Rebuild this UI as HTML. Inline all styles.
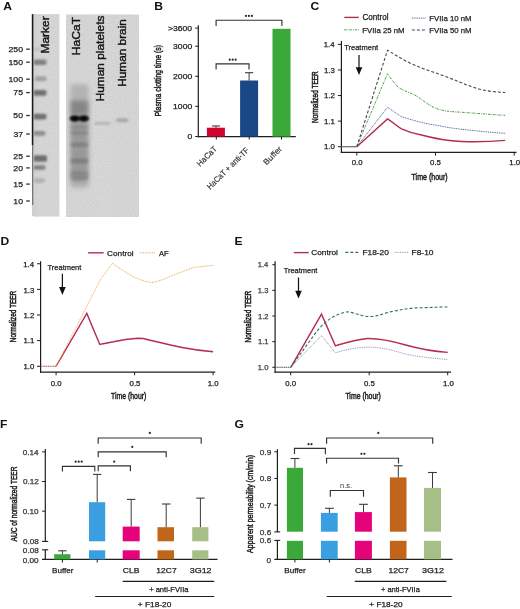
<!DOCTYPE html><html><head><meta charset="utf-8"><style>html,body{margin:0;padding:0;background:#fff;}svg{display:block;will-change:transform;filter:blur(0.3px);}text{font-family:"Liberation Sans", sans-serif;}</style></head><body>
<svg width="520" height="609" viewBox="0 0 520 609">
<defs><filter id="b1" x="-50%" y="-50%" width="200%" height="200%"><feGaussianBlur stdDeviation="1.1"/></filter><filter id="b2" x="-50%" y="-50%" width="200%" height="200%"><feGaussianBlur stdDeviation="2"/></filter><filter id="b3" x="-50%" y="-50%" width="200%" height="200%"><feGaussianBlur stdDeviation="3"/></filter><filter id="noise" x="0" y="0" width="100%" height="100%"><feTurbulence type="fractalNoise" baseFrequency="0.9" numOctaves="2" seed="3"/><feColorMatrix type="matrix" values="0 0 0 0 0  0 0 0 0 0  0 0 0 0 0  0 0 0 0.10 0"/></filter><clipPath id="gm"><rect x="33.3" y="14.1" width="26.1" height="202.5"/></clipPath><clipPath id="gg"><rect x="66" y="14.5" width="73" height="202.5"/></clipPath></defs>
<rect x="0.00" y="0.00" width="520.00" height="609.00" fill="#fff" />
<text transform="translate(3.2,9.8) scale(1.1,1)" font-size="11" font-weight="bold" fill="#111">A</text>
<text transform="translate(154.2,9.8) scale(1.1,1)" font-size="11" font-weight="bold" fill="#111">B</text>
<text transform="translate(310.6,9.8) scale(1.1,1)" font-size="11" font-weight="bold" fill="#111">C</text>
<text transform="translate(0.4,245.1) scale(1.1,1)" font-size="11" font-weight="bold" fill="#111">D</text>
<text transform="translate(234.5,245.1) scale(1.1,1)" font-size="11" font-weight="bold" fill="#111">E</text>
<text transform="translate(0.0,427.8) scale(1.1,1)" font-size="11" font-weight="bold" fill="#111">F</text>
<text transform="translate(234.4,427.8) scale(1.1,1)" font-size="11" font-weight="bold" fill="#111">G</text>
<rect x="33.30" y="14.10" width="26.10" height="202.50" fill="#dfdfdf" />
<g clip-path="url(#gm)">
<rect x="33.30" y="14.10" width="4.00" height="202.50" fill="#dcdcdc" filter="url(#b1)"/>
<rect x="34" y="48.0" width="7" height="3" rx="2" fill="#333" opacity="0.12" filter="url(#b1)"/>
<rect x="33.5" y="59.45" width="13.0" height="5.5" rx="2" fill="#333" opacity="0.5" filter="url(#b1)"/>
<rect x="35" y="76.3" width="11.5" height="5" rx="2" fill="#333" opacity="0.3" filter="url(#b1)"/>
<rect x="33.5" y="89.89999999999999" width="13.0" height="5.8" rx="2" fill="#333" opacity="0.6" filter="url(#b1)"/>
<rect x="33.5" y="113.8" width="13.0" height="5.8" rx="2" fill="#333" opacity="0.6" filter="url(#b1)"/>
<rect x="33.5" y="130.9" width="12.0" height="4.8" rx="2" fill="#333" opacity="0.42" filter="url(#b1)"/>
<rect x="33.5" y="155.25" width="13.5" height="6.5" rx="2" fill="#333" opacity="0.62" filter="url(#b1)"/>
<rect x="33.5" y="165.35" width="12.0" height="4.5" rx="2" fill="#333" opacity="0.5" filter="url(#b1)"/>
<rect x="34" y="178.35" width="11" height="4.5" rx="2" fill="#333" opacity="0.2" filter="url(#b1)"/>
<rect x="30" y="0" width="35" height="230" fill="#000" filter="url(#noise)"/>
</g>
<rect x="31.80" y="14.10" width="1.60" height="131.00" fill="#1a1a1a" />
<rect x="32.00" y="145.00" width="1.30" height="60.00" fill="#444" opacity="0.75"/>
<rect x="32.00" y="205.00" width="1.30" height="11.00" fill="#888" opacity="0.4"/>
<line x1="26.20" y1="49.20" x2="29.70" y2="49.20" stroke="#2a2a2a" stroke-width="1.3" />
<line x1="26.20" y1="62.20" x2="29.70" y2="62.20" stroke="#2a2a2a" stroke-width="1.3" />
<line x1="26.20" y1="79.20" x2="29.70" y2="79.20" stroke="#2a2a2a" stroke-width="1.3" />
<line x1="26.20" y1="92.60" x2="29.70" y2="92.60" stroke="#2a2a2a" stroke-width="1.3" />
<line x1="26.20" y1="115.50" x2="29.70" y2="115.50" stroke="#2a2a2a" stroke-width="1.3" />
<line x1="26.20" y1="134.00" x2="29.70" y2="134.00" stroke="#2a2a2a" stroke-width="1.3" />
<line x1="26.20" y1="156.20" x2="29.70" y2="156.20" stroke="#2a2a2a" stroke-width="1.3" />
<line x1="26.20" y1="167.90" x2="29.70" y2="167.90" stroke="#2a2a2a" stroke-width="1.3" />
<line x1="26.20" y1="184.10" x2="29.70" y2="184.10" stroke="#2a2a2a" stroke-width="1.3" />
<line x1="26.20" y1="201.00" x2="29.70" y2="201.00" stroke="#2a2a2a" stroke-width="1.3" />
<rect x="66.00" y="14.50" width="73.00" height="202.50" fill="#dfdfdf" />
<g clip-path="url(#gg)">
<rect x="93.00" y="10.00" width="19.00" height="215.00" fill="#e0e0e0" filter="url(#b2)"/>
<rect x="70.3" y="84" width="18.2" height="104" rx="4" fill="#8a8a8a" opacity="0.40" filter="url(#b2)"/>
<rect x="70.5" y="120" width="17.8" height="62" rx="4" fill="#777" opacity="0.40" filter="url(#b2)"/>
<rect x="70.3" y="100.5" width="18.2" height="15" rx="2" fill="#555" opacity="0.45" filter="url(#b2)"/>
<ellipse cx="74.5" cy="118.4" rx="5" ry="3" fill="#000" opacity="0.9" filter="url(#b1)"/>
<ellipse cx="84.2" cy="118.4" rx="5" ry="3" fill="#000" opacity="0.9" filter="url(#b1)"/>
<rect x="72" y="116.5" width="14" height="4" fill="#000" opacity="0.6" filter="url(#b1)"/>
<rect x="70.3" y="126.0" width="18.2" height="3" rx="2" fill="#444" opacity="0.12" filter="url(#b1)"/>
<rect x="70.3" y="131.15" width="18.2" height="3.5" rx="2" fill="#444" opacity="0.18" filter="url(#b1)"/>
<rect x="70.3" y="142.45" width="18.2" height="4.5" rx="2" fill="#444" opacity="0.26" filter="url(#b1)"/>
<rect x="70.3" y="158.5" width="18.2" height="5" rx="2" fill="#444" opacity="0.28" filter="url(#b1)"/>
<rect x="70.3" y="170.9" width="18.2" height="9" rx="2" fill="#444" opacity="0.18" filter="url(#b1)"/>
<rect x="94.5" y="121.9" width="15.8" height="2.8" rx="1.4" fill="#666" opacity="0.28" filter="url(#b1)"/>
<rect x="116" y="118.2" width="12.5" height="4" rx="2" fill="#555" opacity="0.32" filter="url(#b1)"/>
<rect x="30" y="0" width="120" height="230" fill="#000" filter="url(#noise)"/>
</g>
<line x1="198.30" y1="25.30" x2="198.30" y2="137.20" stroke="#1e1e1e" stroke-width="1.2" />
<line x1="197.70" y1="136.60" x2="295.80" y2="136.60" stroke="#1e1e1e" stroke-width="1.2" />
<line x1="195.20" y1="136.50" x2="198.30" y2="136.50" stroke="#1e1e1e" stroke-width="1.0" />
<line x1="195.20" y1="106.40" x2="198.30" y2="106.40" stroke="#1e1e1e" stroke-width="1.0" />
<line x1="195.20" y1="76.30" x2="198.30" y2="76.30" stroke="#1e1e1e" stroke-width="1.0" />
<line x1="195.20" y1="46.20" x2="198.30" y2="46.20" stroke="#1e1e1e" stroke-width="1.0" />
<line x1="195.20" y1="28.14" x2="198.30" y2="28.14" stroke="#1e1e1e" stroke-width="1.0" />
<rect x="206.90" y="127.70" width="18.00" height="8.90" fill="#d1052c" />
<rect x="240.10" y="80.50" width="18.00" height="56.10" fill="#1a4786" />
<rect x="272.50" y="28.80" width="18.00" height="107.80" fill="#3aa93a" />
<line x1="216.00" y1="126.00" x2="216.00" y2="127.70" stroke="#3a3a3a" stroke-width="1.0" />
<line x1="212.10" y1="126.00" x2="219.90" y2="126.00" stroke="#3a3a3a" stroke-width="1.1" />
<line x1="249.10" y1="72.70" x2="249.10" y2="80.50" stroke="#3a3a3a" stroke-width="1.0" />
<line x1="245.00" y1="72.70" x2="253.20" y2="72.70" stroke="#3a3a3a" stroke-width="1.1" />
<line x1="216.30" y1="136.60" x2="216.30" y2="139.60" stroke="#1e1e1e" stroke-width="1.0" />
<line x1="249.20" y1="136.60" x2="249.20" y2="139.60" stroke="#1e1e1e" stroke-width="1.0" />
<line x1="281.50" y1="136.60" x2="281.50" y2="139.60" stroke="#1e1e1e" stroke-width="1.0" />
<path d="M216.1,26.0 V20.2 H281.9 V26.0" stroke="#333" stroke-width="1.15" fill="none" />
<circle cx="245.90" cy="15.90" r="1.1" fill="#2a2a2a"/>
<circle cx="248.90" cy="15.90" r="1.1" fill="#2a2a2a"/>
<circle cx="251.90" cy="15.90" r="1.1" fill="#2a2a2a"/>
<path d="M216.1,69.6 V63.9 H249.0 V69.6" stroke="#333" stroke-width="1.15" fill="none" />
<circle cx="229.70" cy="59.70" r="1.1" fill="#2a2a2a"/>
<circle cx="232.70" cy="59.70" r="1.1" fill="#2a2a2a"/>
<circle cx="235.70" cy="59.70" r="1.1" fill="#2a2a2a"/>
<text transform="translate(217.5,149.5) rotate(-45)" font-size="8.2" fill="#2a2a2a" stroke="#2a2a2a" stroke-width="0.15" text-anchor="end" textLength="24.6" lengthAdjust="spacingAndGlyphs">HaCaT</text>
<text transform="translate(249.5,150.8) rotate(-45)" font-size="8.2" fill="#2a2a2a" stroke="#2a2a2a" stroke-width="0.15" text-anchor="end" textLength="55.5" lengthAdjust="spacingAndGlyphs">HaCaT + anti-TF</text>
<text transform="translate(282.5,149.5) rotate(-45)" font-size="8.2" fill="#2a2a2a" stroke="#2a2a2a" stroke-width="0.15" text-anchor="end" textLength="22.5" lengthAdjust="spacingAndGlyphs">Buffer</text>
<line x1="341.40" y1="40.90" x2="341.40" y2="153.00" stroke="#1e1e1e" stroke-width="1.2" />
<line x1="340.80" y1="152.45" x2="516.50" y2="152.45" stroke="#1e1e1e" stroke-width="1.2" />
<line x1="337.90" y1="146.70" x2="341.40" y2="146.70" stroke="#1e1e1e" stroke-width="1.0" />
<line x1="337.90" y1="121.12" x2="341.40" y2="121.12" stroke="#1e1e1e" stroke-width="1.0" />
<line x1="337.90" y1="95.55" x2="341.40" y2="95.55" stroke="#1e1e1e" stroke-width="1.0" />
<line x1="337.90" y1="69.97" x2="341.40" y2="69.97" stroke="#1e1e1e" stroke-width="1.0" />
<line x1="337.90" y1="44.40" x2="341.40" y2="44.40" stroke="#1e1e1e" stroke-width="1.0" />
<line x1="356.80" y1="152.45" x2="356.80" y2="155.60" stroke="#1e1e1e" stroke-width="1.0" />
<line x1="435.50" y1="152.45" x2="435.50" y2="155.60" stroke="#1e1e1e" stroke-width="1.0" />
<line x1="514.20" y1="152.45" x2="514.20" y2="155.60" stroke="#1e1e1e" stroke-width="1.0" />
<line x1="359.00" y1="54.90" x2="359.00" y2="68.20" stroke="#111" stroke-width="1.2" />
<path d="M355.70,67.20 L362.30,67.20 L359.00,75.00 Z" fill="#111"/>
<line x1="344.30" y1="17.40" x2="358.80" y2="17.40" stroke="#b72c4c" stroke-width="1.4" />
<line x1="344.30" y1="29.80" x2="358.80" y2="29.80" stroke="#4c9c44" stroke-width="1.0" stroke-dasharray="2.4,1,0.8,1"/>
<line x1="411.90" y1="18.10" x2="426.00" y2="18.10" stroke="#44649c" stroke-width="1.0" stroke-dasharray="1,0.8"/>
<line x1="411.90" y1="30.00" x2="426.00" y2="30.00" stroke="#4b4052" stroke-width="1.1" stroke-dasharray="3,2"/>
<path d="M356.8,146.7 L387.5,118.9 C394,123 397,126.5 401.5,128.8 C410,132.5 415,133.8 420.4,134.8 C433,138 440,139.5 447.3,140.2 C460,141.5 468,141.8 474.2,141.8 C490,141.6 498,141 505.2,140.4" stroke="#b72c4c" stroke-width="1.4" fill="none" />
<path d="M356.8,146.7 L387.5,107.3 C393,111 397,114 401.5,116.7 C415,121 425,123.5 433.8,124.8 C445,127 453,128.3 460.8,129.2 C480,131.3 495,132.8 505.2,133.3" stroke="#44649c" stroke-width="1.0" fill="none" stroke-dasharray="1,0.8"/>
<path d="M356.8,146.7 L387.5,73.7 C392,80 396,86 400.2,88.5 C405,91 409,92.5 412.3,93.8 C416,95.5 419,97.5 423,100.6 C430,105.5 434,108 439.2,109.5 C447,111.5 453,111.8 460.8,112.2 C475,113.2 490,114.5 505.2,115.4" stroke="#4c9c44" stroke-width="1.0" fill="none" stroke-dasharray="2.4,1,0.8,1"/>
<line x1="341.40" y1="146.70" x2="356.80" y2="146.70" stroke="#6a6a6a" stroke-width="1.2" />
<path d="M356.8,146.7 L387.5,50.2 C394,54 400,58 406.9,61.5 C416,66 425,69.5 433.8,72.3 C443,75.5 452,79 460.8,82.5 C468,85.5 475,88 482.3,89.8 C490,91.5 498,92.2 505.2,92.5" stroke="#4b4052" stroke-width="1.1" fill="none" stroke-dasharray="3,2"/>
<line x1="40.60" y1="261.20" x2="40.60" y2="372.80" stroke="#1e1e1e" stroke-width="1.2" />
<line x1="40.00" y1="372.20" x2="215.20" y2="372.20" stroke="#1e1e1e" stroke-width="1.2" />
<line x1="37.00" y1="366.25" x2="40.60" y2="366.25" stroke="#1e1e1e" stroke-width="1.0" />
<line x1="37.00" y1="340.62" x2="40.60" y2="340.62" stroke="#1e1e1e" stroke-width="1.0" />
<line x1="37.00" y1="315.00" x2="40.60" y2="315.00" stroke="#1e1e1e" stroke-width="1.0" />
<line x1="37.00" y1="289.38" x2="40.60" y2="289.38" stroke="#1e1e1e" stroke-width="1.0" />
<line x1="37.00" y1="263.75" x2="40.60" y2="263.75" stroke="#1e1e1e" stroke-width="1.0" />
<line x1="56.10" y1="372.20" x2="56.10" y2="375.30" stroke="#1e1e1e" stroke-width="1.0" />
<line x1="134.60" y1="372.20" x2="134.60" y2="375.30" stroke="#1e1e1e" stroke-width="1.0" />
<line x1="213.10" y1="372.20" x2="213.10" y2="375.30" stroke="#1e1e1e" stroke-width="1.0" />
<line x1="62.40" y1="273.75" x2="62.40" y2="288.10" stroke="#111" stroke-width="1.2" />
<path d="M59.10,287.10 L65.70,287.10 L62.40,294.90 Z" fill="#111"/>
<line x1="88.10" y1="252.80" x2="103.70" y2="252.80" stroke="#b72c52" stroke-width="1.4" />
<line x1="139.50" y1="252.80" x2="155.10" y2="252.80" stroke="#eda23c" stroke-width="1.0" stroke-dasharray="0.9,0.9"/>
<path d="M56.1,366.25 L86.8,313.4 L99.8,344.4 C106,343.3 110,342.3 113.5,341.8 C121,340 128,338.8 137.7,338.3 C140,338.3 141.5,338.3 143.1,338.5 C158,342 170,345 180.8,347.2 C195,350 205,351 213.1,351.7" stroke="#b72c52" stroke-width="1.4" fill="none" />
<path d="M56.1,366.25 L100.5,279.5 L112.5,263.3 C122,270 135,280 151.2,282.5 C162,281.5 172,275 180.8,272.3 C187,270 190,268.5 194.2,267.7 C200,266.5 207,265.8 213.1,265.6" stroke="#eda23c" stroke-width="1.0" fill="none" stroke-dasharray="0.9,0.9"/>
<line x1="40.60" y1="366.25" x2="56.10" y2="366.25" stroke="#9a4a44" stroke-width="1.1" stroke-dasharray="1.2,0.6"/>
<line x1="275.10" y1="261.30" x2="275.10" y2="372.80" stroke="#1e1e1e" stroke-width="1.2" />
<line x1="274.50" y1="372.20" x2="451.00" y2="372.20" stroke="#1e1e1e" stroke-width="1.2" />
<line x1="272.30" y1="367.30" x2="275.10" y2="367.30" stroke="#1e1e1e" stroke-width="1.0" />
<line x1="272.30" y1="341.65" x2="275.10" y2="341.65" stroke="#1e1e1e" stroke-width="1.0" />
<line x1="272.30" y1="316.00" x2="275.10" y2="316.00" stroke="#1e1e1e" stroke-width="1.0" />
<line x1="272.30" y1="290.35" x2="275.10" y2="290.35" stroke="#1e1e1e" stroke-width="1.0" />
<line x1="272.30" y1="264.70" x2="275.10" y2="264.70" stroke="#1e1e1e" stroke-width="1.0" />
<line x1="290.70" y1="372.20" x2="290.70" y2="375.30" stroke="#1e1e1e" stroke-width="1.0" />
<line x1="369.20" y1="372.20" x2="369.20" y2="375.30" stroke="#1e1e1e" stroke-width="1.0" />
<line x1="447.70" y1="372.20" x2="447.70" y2="375.30" stroke="#1e1e1e" stroke-width="1.0" />
<line x1="298.50" y1="277.50" x2="298.50" y2="291.80" stroke="#111" stroke-width="1.2" />
<path d="M295.20,290.80 L301.80,290.80 L298.50,298.60 Z" fill="#111"/>
<line x1="293.80" y1="252.60" x2="308.70" y2="252.60" stroke="#b72c52" stroke-width="1.4" />
<line x1="345.30" y1="252.40" x2="359.70" y2="252.40" stroke="#2b7458" stroke-width="1.1" stroke-dasharray="3,2"/>
<line x1="394.60" y1="252.40" x2="408.80" y2="252.40" stroke="#8d8dbd" stroke-width="1.0" stroke-dasharray="0.9,0.9"/>
<path d="M290.8,367.3 L321.5,314.1 L335.4,345.8 C345,343 355,339.5 367.7,338.5 C380,338.3 392,341 405.7,345 C420,349 435,351.5 447.7,352.4" stroke="#b72c52" stroke-width="1.4" fill="none" />
<path d="M290.8,367.3 L317,331 C325,321 336,313.5 347.5,311.8 C355,312.8 362,316.5 370,316.6 C380,316 386,312.5 392.5,311.4 C402,309.5 410,308 418.8,307.8 C430,307.5 440,307 447.7,307" stroke="#2b7458" stroke-width="1.1" fill="none" stroke-dasharray="3,2"/>
<path d="M290.8,367.3 L321.5,335.6 L335.4,352.8 C345,350 355,347.5 368.9,347.1 C385,347.5 395,351 405.7,354.2 C420,357 435,358.5 447.7,359.5" stroke="#8d8dbd" stroke-width="1.0" fill="none" stroke-dasharray="0.9,0.9"/>
<line x1="275.10" y1="367.30" x2="290.80" y2="367.30" stroke="#444" stroke-width="1.1" stroke-dasharray="1.4,0.7"/>
<line x1="45.30" y1="449.10" x2="45.30" y2="541.40" stroke="#1e1e1e" stroke-width="1.2" />
<line x1="42.00" y1="541.40" x2="48.20" y2="541.40" stroke="#1e1e1e" stroke-width="1.1" />
<line x1="45.30" y1="549.80" x2="45.30" y2="560.00" stroke="#1e1e1e" stroke-width="1.2" />
<line x1="42.00" y1="549.80" x2="48.20" y2="549.80" stroke="#1e1e1e" stroke-width="1.1" />
<line x1="42.00" y1="559.40" x2="217.50" y2="559.40" stroke="#1e1e1e" stroke-width="1.2" />
<line x1="42.10" y1="451.90" x2="45.30" y2="451.90" stroke="#1e1e1e" stroke-width="1.0" />
<line x1="42.10" y1="481.55" x2="45.30" y2="481.55" stroke="#1e1e1e" stroke-width="1.0" />
<line x1="42.10" y1="511.20" x2="45.30" y2="511.20" stroke="#1e1e1e" stroke-width="1.0" />
<rect x="54.20" y="554.20" width="16.20" height="5.20" fill="#3aa93a" />
<rect x="89.00" y="502.20" width="16.20" height="39.10" fill="#3a9fe0" />
<rect x="89.00" y="550.30" width="16.20" height="9.10" fill="#3a9fe0" />
<rect x="122.70" y="526.60" width="17.00" height="14.70" fill="#e5037b" />
<rect x="122.70" y="550.30" width="17.00" height="9.10" fill="#e5037b" />
<rect x="157.50" y="527.20" width="16.50" height="14.10" fill="#c1651b" />
<rect x="157.50" y="550.30" width="16.50" height="9.10" fill="#c1651b" />
<rect x="192.20" y="527.20" width="16.20" height="14.10" fill="#a6bf86" />
<rect x="192.20" y="550.30" width="16.20" height="9.10" fill="#a6bf86" />
<line x1="62.40" y1="550.80" x2="62.40" y2="554.20" stroke="#3a3a3a" stroke-width="1.0" />
<line x1="58.20" y1="550.80" x2="66.60" y2="550.80" stroke="#3a3a3a" stroke-width="1.1" />
<line x1="97.20" y1="474.40" x2="97.20" y2="502.20" stroke="#3a3a3a" stroke-width="1.0" />
<line x1="93.00" y1="474.40" x2="101.40" y2="474.40" stroke="#3a3a3a" stroke-width="1.1" />
<line x1="131.20" y1="499.40" x2="131.20" y2="526.60" stroke="#3a3a3a" stroke-width="1.0" />
<line x1="127.00" y1="499.40" x2="135.40" y2="499.40" stroke="#3a3a3a" stroke-width="1.1" />
<line x1="166.20" y1="504.00" x2="166.20" y2="527.20" stroke="#3a3a3a" stroke-width="1.0" />
<line x1="162.00" y1="504.00" x2="170.40" y2="504.00" stroke="#3a3a3a" stroke-width="1.1" />
<line x1="200.40" y1="498.10" x2="200.40" y2="527.20" stroke="#3a3a3a" stroke-width="1.0" />
<line x1="196.20" y1="498.10" x2="204.60" y2="498.10" stroke="#3a3a3a" stroke-width="1.1" />
<line x1="62.40" y1="559.40" x2="62.40" y2="562.60" stroke="#1e1e1e" stroke-width="1.0" />
<line x1="97.20" y1="559.40" x2="97.20" y2="562.60" stroke="#1e1e1e" stroke-width="1.0" />
<path d="M62.4,471.59999999999997 V466.4 H94.8 V471.59999999999997" stroke="#333" stroke-width="1.15" fill="none" />
<circle cx="75.70" cy="461.70" r="1.1" fill="#2a2a2a"/>
<circle cx="78.70" cy="461.70" r="1.1" fill="#2a2a2a"/>
<circle cx="81.70" cy="461.70" r="1.1" fill="#2a2a2a"/>
<path d="M98.2,471.2 V465.8 H130.4 V471.2" stroke="#333" stroke-width="1.15" fill="none" />
<circle cx="114.20" cy="461.70" r="1.1" fill="#2a2a2a"/>
<path d="M98.2,457.2 V451.8 H166.2 V457.2" stroke="#333" stroke-width="1.15" fill="none" />
<circle cx="132.30" cy="446.90" r="1.1" fill="#2a2a2a"/>
<path d="M98.2,443.7 V438.0 H201.2 V443.7" stroke="#333" stroke-width="1.15" fill="none" />
<circle cx="149.80" cy="432.90" r="1.1" fill="#2a2a2a"/>
<line x1="122.70" y1="581.40" x2="214.20" y2="581.40" stroke="#1e1e1e" stroke-width="1.1" />
<line x1="95.20" y1="596.50" x2="214.20" y2="596.50" stroke="#1e1e1e" stroke-width="1.1" />
<line x1="277.40" y1="449.20" x2="277.40" y2="531.90" stroke="#1e1e1e" stroke-width="1.2" />
<line x1="274.30" y1="531.90" x2="280.20" y2="531.90" stroke="#1e1e1e" stroke-width="1.1" />
<line x1="277.40" y1="540.40" x2="277.40" y2="559.90" stroke="#1e1e1e" stroke-width="1.2" />
<line x1="274.30" y1="540.40" x2="280.20" y2="540.40" stroke="#1e1e1e" stroke-width="1.1" />
<line x1="274.30" y1="559.30" x2="452.50" y2="559.30" stroke="#1e1e1e" stroke-width="1.2" />
<line x1="274.30" y1="451.80" x2="277.40" y2="451.80" stroke="#1e1e1e" stroke-width="1.0" />
<line x1="274.30" y1="478.45" x2="277.40" y2="478.45" stroke="#1e1e1e" stroke-width="1.0" />
<line x1="274.30" y1="505.10" x2="277.40" y2="505.10" stroke="#1e1e1e" stroke-width="1.0" />
<rect x="286.90" y="467.80" width="16.10" height="63.90" fill="#3aa93a" />
<rect x="286.90" y="540.80" width="16.10" height="18.50" fill="#3aa93a" />
<rect x="320.90" y="512.90" width="16.80" height="18.80" fill="#3a9fe0" />
<rect x="320.90" y="540.80" width="16.80" height="18.50" fill="#3a9fe0" />
<rect x="354.90" y="512.10" width="17.00" height="19.60" fill="#e5037b" />
<rect x="354.90" y="540.80" width="17.00" height="18.50" fill="#e5037b" />
<rect x="389.90" y="477.40" width="16.60" height="54.30" fill="#c1651b" />
<rect x="389.90" y="540.80" width="16.60" height="18.50" fill="#c1651b" />
<rect x="424.00" y="487.90" width="17.00" height="43.80" fill="#a6bf86" />
<rect x="424.00" y="540.80" width="17.00" height="18.50" fill="#a6bf86" />
<line x1="294.90" y1="458.50" x2="294.90" y2="467.80" stroke="#3a3a3a" stroke-width="1.0" />
<line x1="290.50" y1="458.50" x2="299.30" y2="458.50" stroke="#3a3a3a" stroke-width="1.1" />
<line x1="329.40" y1="508.30" x2="329.40" y2="512.90" stroke="#3a3a3a" stroke-width="1.0" />
<line x1="325.00" y1="508.30" x2="333.80" y2="508.30" stroke="#3a3a3a" stroke-width="1.1" />
<line x1="363.50" y1="504.30" x2="363.50" y2="512.10" stroke="#3a3a3a" stroke-width="1.0" />
<line x1="359.10" y1="504.30" x2="367.90" y2="504.30" stroke="#3a3a3a" stroke-width="1.1" />
<line x1="398.30" y1="465.80" x2="398.30" y2="477.40" stroke="#3a3a3a" stroke-width="1.0" />
<line x1="393.90" y1="465.80" x2="402.70" y2="465.80" stroke="#3a3a3a" stroke-width="1.1" />
<line x1="432.50" y1="472.50" x2="432.50" y2="487.90" stroke="#3a3a3a" stroke-width="1.0" />
<line x1="428.10" y1="472.50" x2="436.90" y2="472.50" stroke="#3a3a3a" stroke-width="1.1" />
<line x1="294.90" y1="559.30" x2="294.90" y2="562.50" stroke="#1e1e1e" stroke-width="1.0" />
<line x1="329.40" y1="559.30" x2="329.40" y2="562.50" stroke="#1e1e1e" stroke-width="1.0" />
<path d="M294.5,453.9 V448.4 H325.4 V454.2" stroke="#333" stroke-width="1.15" fill="none" />
<circle cx="308.50" cy="444.20" r="1.1" fill="#2a2a2a"/>
<circle cx="311.50" cy="444.20" r="1.1" fill="#2a2a2a"/>
<path d="M326.6,443.7 V438.0 H432.7 V443.7" stroke="#333" stroke-width="1.15" fill="none" />
<circle cx="378.30" cy="432.90" r="1.1" fill="#2a2a2a"/>
<path d="M326.6,463.59999999999997 V458.2 H398.5 V463.59999999999997" stroke="#333" stroke-width="1.15" fill="none" />
<circle cx="361.40" cy="453.80" r="1.1" fill="#2a2a2a"/>
<circle cx="364.40" cy="453.80" r="1.1" fill="#2a2a2a"/>
<path d="M330.3,496.7 V490.5 H363.5 V496.7" stroke="#333" stroke-width="1.15" fill="none" />
<text x="346.0" y="487.6" font-size="7.4" fill="#333" text-anchor="middle">n.s.</text>
<line x1="354.80" y1="581.40" x2="446.40" y2="581.40" stroke="#1e1e1e" stroke-width="1.1" />
<line x1="326.70" y1="596.50" x2="451.70" y2="596.50" stroke="#1e1e1e" stroke-width="1.1" />
<text x="8.54" y="51.85" font-size="7.9" fill="#1e1e1e" stroke="#1e1e1e" stroke-width="0.25" textLength="14.49" lengthAdjust="spacingAndGlyphs">250</text>
<text x="8.54" y="64.65" font-size="7.9" fill="#1e1e1e" stroke="#1e1e1e" stroke-width="0.25" textLength="14.49" lengthAdjust="spacingAndGlyphs">150</text>
<text x="8.54" y="81.95" font-size="7.9" fill="#1e1e1e" stroke="#1e1e1e" stroke-width="0.25" textLength="14.49" lengthAdjust="spacingAndGlyphs">100</text>
<text x="13.35" y="95.35" font-size="7.9" fill="#1e1e1e" stroke="#1e1e1e" stroke-width="0.25" textLength="9.66" lengthAdjust="spacingAndGlyphs">75</text>
<text x="13.35" y="118.25" font-size="7.9" fill="#1e1e1e" stroke="#1e1e1e" stroke-width="0.25" textLength="9.66" lengthAdjust="spacingAndGlyphs">50</text>
<text x="13.49" y="136.75" font-size="7.9" fill="#1e1e1e" stroke="#1e1e1e" stroke-width="0.25" textLength="9.66" lengthAdjust="spacingAndGlyphs">37</text>
<text x="13.35" y="158.95" font-size="7.9" fill="#1e1e1e" stroke="#1e1e1e" stroke-width="0.25" textLength="9.66" lengthAdjust="spacingAndGlyphs">25</text>
<text x="13.35" y="170.65" font-size="7.9" fill="#1e1e1e" stroke="#1e1e1e" stroke-width="0.25" textLength="9.66" lengthAdjust="spacingAndGlyphs">20</text>
<text x="13.35" y="186.85" font-size="7.9" fill="#1e1e1e" stroke="#1e1e1e" stroke-width="0.25" textLength="9.66" lengthAdjust="spacingAndGlyphs">15</text>
<text x="13.35" y="203.75" font-size="7.9" fill="#1e1e1e" stroke="#1e1e1e" stroke-width="0.25" textLength="9.66" lengthAdjust="spacingAndGlyphs">10</text>
<text transform="translate(48.60,53.45) rotate(-90)" font-size="11.0" fill="#151515" stroke="#151515" stroke-width="0.4" textLength="37.07" lengthAdjust="spacingAndGlyphs">Marker</text>
<text transform="translate(80.30,55.14) rotate(-90)" font-size="11.2" fill="#151515" stroke="#151515" stroke-width="0.4" textLength="38.14" lengthAdjust="spacingAndGlyphs">HaCaT</text>
<text transform="translate(103.80,101.33) rotate(-90)" font-size="11.2" fill="#151515" stroke="#151515" stroke-width="0.4" textLength="85.79" lengthAdjust="spacingAndGlyphs">Human platelets</text>
<text transform="translate(125.50,86.81) rotate(-90)" font-size="11.4" fill="#151515" stroke="#151515" stroke-width="0.4" textLength="67.65" lengthAdjust="spacingAndGlyphs">Human brain</text>
<text x="187.40" y="139.25" font-size="7.8" fill="#1c1c1c" stroke="#1c1c1c" stroke-width="0.25" textLength="4.78" lengthAdjust="spacingAndGlyphs">0</text>
<text x="173.10" y="109.35" font-size="7.8" fill="#1c1c1c" stroke="#1c1c1c" stroke-width="0.25" textLength="19.10" lengthAdjust="spacingAndGlyphs">1000</text>
<text x="173.10" y="79.15" font-size="7.8" fill="#1c1c1c" stroke="#1c1c1c" stroke-width="0.25" textLength="19.10" lengthAdjust="spacingAndGlyphs">2000</text>
<text x="173.10" y="49.15" font-size="7.8" fill="#1c1c1c" stroke="#1c1c1c" stroke-width="0.25" textLength="19.10" lengthAdjust="spacingAndGlyphs">3000</text>
<text x="168.01" y="31.05" font-size="7.8" fill="#1c1c1c" stroke="#1c1c1c" stroke-width="0.25" textLength="24.10" lengthAdjust="spacingAndGlyphs">&gt;3600</text>
<text transform="translate(161.40,116.57) rotate(-90)" font-size="9.0" fill="#1c1c1c" stroke="#1c1c1c" stroke-width="0.45" textLength="71.58" lengthAdjust="spacingAndGlyphs">Plasma clotting time (s)</text>
<text x="323.90" y="149.40" font-size="7.8" fill="#1c1c1c" stroke="#1c1c1c" stroke-width="0.25" textLength="10.84" lengthAdjust="spacingAndGlyphs">1.0</text>
<text x="323.90" y="123.90" font-size="7.8" fill="#1c1c1c" stroke="#1c1c1c" stroke-width="0.25" textLength="10.84" lengthAdjust="spacingAndGlyphs">1.1</text>
<text x="323.90" y="98.40" font-size="7.8" fill="#1c1c1c" stroke="#1c1c1c" stroke-width="0.25" textLength="10.84" lengthAdjust="spacingAndGlyphs">1.2</text>
<text x="323.90" y="72.80" font-size="7.8" fill="#1c1c1c" stroke="#1c1c1c" stroke-width="0.25" textLength="10.84" lengthAdjust="spacingAndGlyphs">1.3</text>
<text x="323.77" y="47.10" font-size="7.8" fill="#1c1c1c" stroke="#1c1c1c" stroke-width="0.25" textLength="10.84" lengthAdjust="spacingAndGlyphs">1.4</text>
<text x="351.68" y="165.30" font-size="7.8" fill="#1c1c1c" stroke="#1c1c1c" stroke-width="0.25" textLength="10.84" lengthAdjust="spacingAndGlyphs">0.0</text>
<text x="430.12" y="165.30" font-size="7.8" fill="#1c1c1c" stroke="#1c1c1c" stroke-width="0.25" textLength="10.84" lengthAdjust="spacingAndGlyphs">0.5</text>
<text x="509.34" y="165.30" font-size="7.8" fill="#1c1c1c" stroke="#1c1c1c" stroke-width="0.25" textLength="10.84" lengthAdjust="spacingAndGlyphs">1.0</text>
<text x="411.52" y="180.00" font-size="9.9" fill="#1c1c1c" stroke="#1c1c1c" stroke-width="0.5" textLength="36.17" lengthAdjust="spacingAndGlyphs">Time (hour)</text>
<text transform="translate(318.20,123.01) rotate(-90)" font-size="9.5" fill="#1c1c1c" stroke="#1c1c1c" stroke-width="0.5" textLength="51.74" lengthAdjust="spacingAndGlyphs">Normalized TEER</text>
<text x="344.18" y="49.70" font-size="7.6" fill="#1c1c1c" stroke="#1c1c1c" stroke-width="0.25" textLength="34.00" lengthAdjust="spacingAndGlyphs">Treatment</text>
<text x="362.53" y="20.40" font-size="8.2" fill="#1c1c1c" stroke="#1c1c1c" stroke-width="0.25" textLength="26.10" lengthAdjust="spacingAndGlyphs">Control</text>
<text x="362.20" y="32.60" font-size="8.1" fill="#1c1c1c" stroke="#1c1c1c" stroke-width="0.25" textLength="42.37" lengthAdjust="spacingAndGlyphs">FVIIa 25 nM</text>
<text x="429.20" y="20.50" font-size="8.1" fill="#1c1c1c" stroke="#1c1c1c" stroke-width="0.25" textLength="42.37" lengthAdjust="spacingAndGlyphs">FVIIa 10 nM</text>
<text x="429.20" y="32.60" font-size="8.1" fill="#1c1c1c" stroke="#1c1c1c" stroke-width="0.25" textLength="42.37" lengthAdjust="spacingAndGlyphs">FVIIa 50 nM</text>
<text x="23.40" y="369.00" font-size="7.8" fill="#1c1c1c" stroke="#1c1c1c" stroke-width="0.25" textLength="10.84" lengthAdjust="spacingAndGlyphs">1.0</text>
<text x="23.40" y="343.40" font-size="7.8" fill="#1c1c1c" stroke="#1c1c1c" stroke-width="0.25" textLength="10.84" lengthAdjust="spacingAndGlyphs">1.1</text>
<text x="23.40" y="318.00" font-size="7.8" fill="#1c1c1c" stroke="#1c1c1c" stroke-width="0.25" textLength="10.84" lengthAdjust="spacingAndGlyphs">1.2</text>
<text x="23.40" y="292.90" font-size="7.8" fill="#1c1c1c" stroke="#1c1c1c" stroke-width="0.25" textLength="10.84" lengthAdjust="spacingAndGlyphs">1.3</text>
<text x="23.27" y="266.50" font-size="7.8" fill="#1c1c1c" stroke="#1c1c1c" stroke-width="0.25" textLength="10.84" lengthAdjust="spacingAndGlyphs">1.4</text>
<text x="50.73" y="385.60" font-size="7.8" fill="#1c1c1c" stroke="#1c1c1c" stroke-width="0.25" textLength="10.84" lengthAdjust="spacingAndGlyphs">0.0</text>
<text x="129.62" y="385.60" font-size="7.8" fill="#1c1c1c" stroke="#1c1c1c" stroke-width="0.25" textLength="10.84" lengthAdjust="spacingAndGlyphs">0.5</text>
<text x="207.74" y="385.60" font-size="7.8" fill="#1c1c1c" stroke="#1c1c1c" stroke-width="0.25" textLength="10.84" lengthAdjust="spacingAndGlyphs">1.0</text>
<text x="111.07" y="398.90" font-size="9.6" fill="#1c1c1c" stroke="#1c1c1c" stroke-width="0.5" textLength="35.27" lengthAdjust="spacingAndGlyphs">Time (hour)</text>
<text transform="translate(16.30,342.23) rotate(-90)" font-size="9.2" fill="#1c1c1c" stroke="#1c1c1c" stroke-width="0.5" textLength="51.47" lengthAdjust="spacingAndGlyphs">Normalized TEER</text>
<text x="47.58" y="269.60" font-size="7.8" fill="#1c1c1c" stroke="#1c1c1c" stroke-width="0.25" textLength="33.72" lengthAdjust="spacingAndGlyphs">Treatment</text>
<text x="107.12" y="255.60" font-size="8.1" fill="#1c1c1c" stroke="#1c1c1c" stroke-width="0.25" textLength="26.46" lengthAdjust="spacingAndGlyphs">Control</text>
<text x="159.00" y="255.60" font-size="8.1" fill="#1c1c1c" stroke="#1c1c1c" stroke-width="0.25" textLength="9.72" lengthAdjust="spacingAndGlyphs">AF</text>
<text x="257.80" y="369.90" font-size="7.4" fill="#3a3a3a" stroke="#3a3a3a" stroke-width="0.25" textLength="10.59" lengthAdjust="spacingAndGlyphs">1.0</text>
<text x="257.93" y="344.20" font-size="7.4" fill="#3a3a3a" stroke="#3a3a3a" stroke-width="0.25" textLength="10.59" lengthAdjust="spacingAndGlyphs">1.1</text>
<text x="257.93" y="318.50" font-size="7.4" fill="#3a3a3a" stroke="#3a3a3a" stroke-width="0.25" textLength="10.59" lengthAdjust="spacingAndGlyphs">1.2</text>
<text x="257.80" y="293.00" font-size="7.4" fill="#3a3a3a" stroke="#3a3a3a" stroke-width="0.25" textLength="10.59" lengthAdjust="spacingAndGlyphs">1.3</text>
<text x="257.67" y="267.20" font-size="7.4" fill="#3a3a3a" stroke="#3a3a3a" stroke-width="0.25" textLength="10.59" lengthAdjust="spacingAndGlyphs">1.4</text>
<text x="285.23" y="385.60" font-size="7.8" fill="#1c1c1c" stroke="#1c1c1c" stroke-width="0.25" textLength="10.84" lengthAdjust="spacingAndGlyphs">0.0</text>
<text x="364.02" y="385.60" font-size="7.8" fill="#1c1c1c" stroke="#1c1c1c" stroke-width="0.25" textLength="10.84" lengthAdjust="spacingAndGlyphs">0.5</text>
<text x="442.94" y="385.60" font-size="7.8" fill="#1c1c1c" stroke="#1c1c1c" stroke-width="0.25" textLength="10.84" lengthAdjust="spacingAndGlyphs">1.0</text>
<text x="345.42" y="398.90" font-size="9.6" fill="#1c1c1c" stroke="#1c1c1c" stroke-width="0.5" textLength="35.42" lengthAdjust="spacingAndGlyphs">Time (hour)</text>
<text transform="translate(250.70,342.53) rotate(-90)" font-size="9.2" fill="#1c1c1c" stroke="#1c1c1c" stroke-width="0.5" textLength="51.77" lengthAdjust="spacingAndGlyphs">Normalized TEER</text>
<text x="283.68" y="272.90" font-size="7.6" fill="#1c1c1c" stroke="#1c1c1c" stroke-width="0.25" textLength="33.70" lengthAdjust="spacingAndGlyphs">Treatment</text>
<text x="311.22" y="255.40" font-size="8.1" fill="#1c1c1c" stroke="#1c1c1c" stroke-width="0.25" textLength="26.66" lengthAdjust="spacingAndGlyphs">Control</text>
<text x="362.46" y="255.40" font-size="8.1" fill="#1c1c1c" stroke="#1c1c1c" stroke-width="0.25" textLength="26.43" lengthAdjust="spacingAndGlyphs">F18-20</text>
<text x="411.55" y="255.40" font-size="8.1" fill="#1c1c1c" stroke="#1c1c1c" stroke-width="0.25" textLength="21.94" lengthAdjust="spacingAndGlyphs">F8-10</text>
<text x="22.76" y="454.60" font-size="7.7" fill="#333" stroke="#333" stroke-width="0.25" textLength="15.87" lengthAdjust="spacingAndGlyphs">0.14</text>
<text x="22.90" y="484.30" font-size="7.7" fill="#333" stroke="#333" stroke-width="0.25" textLength="15.87" lengthAdjust="spacingAndGlyphs">0.12</text>
<text x="22.76" y="513.90" font-size="7.7" fill="#333" stroke="#333" stroke-width="0.25" textLength="15.87" lengthAdjust="spacingAndGlyphs">0.10</text>
<text x="22.90" y="544.00" font-size="7.7" fill="#333" stroke="#333" stroke-width="0.25" textLength="15.87" lengthAdjust="spacingAndGlyphs">0.08</text>
<text x="22.86" y="552.60" font-size="7.3" fill="#333" stroke="#333" stroke-width="0.25" textLength="15.91" lengthAdjust="spacingAndGlyphs">0.08</text>
<text x="22.72" y="562.50" font-size="7.3" fill="#333" stroke="#333" stroke-width="0.25" textLength="15.91" lengthAdjust="spacingAndGlyphs">0.00</text>
<text transform="translate(16.90,541.50) rotate(-90)" font-size="9.0" fill="#1c1c1c" stroke="#1c1c1c" stroke-width="0.45" textLength="75.07" lengthAdjust="spacingAndGlyphs">AUC of normalized TEER</text>
<text x="52.06" y="573.00" font-size="7.9" fill="#1c1c1c" stroke="#1c1c1c" stroke-width="0.25" textLength="21.52" lengthAdjust="spacingAndGlyphs">Buffer</text>
<text x="122.77" y="573.20" font-size="7.6" fill="#1c1c1c" stroke="#1c1c1c" stroke-width="0.25" textLength="16.79" lengthAdjust="spacingAndGlyphs">CLB</text>
<text x="156.34" y="573.20" font-size="7.6" fill="#1c1c1c" stroke="#1c1c1c" stroke-width="0.25" textLength="20.31" lengthAdjust="spacingAndGlyphs">12C7</text>
<text x="189.71" y="573.20" font-size="7.6" fill="#1c1c1c" stroke="#1c1c1c" stroke-width="0.25" textLength="21.88" lengthAdjust="spacingAndGlyphs">3G12</text>
<text x="149.13" y="591.70" font-size="7.6" fill="#1c1c1c" stroke="#1c1c1c" stroke-width="0.25" textLength="39.34" lengthAdjust="spacingAndGlyphs">+ anti-FVIIa</text>
<text x="137.89" y="607.00" font-size="7.6" fill="#1c1c1c" stroke="#1c1c1c" stroke-width="0.25" textLength="33.36" lengthAdjust="spacingAndGlyphs">+ F18-20</text>
<text x="259.74" y="454.80" font-size="7.9" fill="#333" stroke="#333" stroke-width="0.25" textLength="11.53" lengthAdjust="spacingAndGlyphs">0.9</text>
<text x="259.74" y="481.40" font-size="7.9" fill="#333" stroke="#333" stroke-width="0.25" textLength="11.53" lengthAdjust="spacingAndGlyphs">0.8</text>
<text x="259.74" y="507.90" font-size="7.9" fill="#333" stroke="#333" stroke-width="0.25" textLength="11.53" lengthAdjust="spacingAndGlyphs">0.7</text>
<text x="259.74" y="534.80" font-size="7.9" fill="#333" stroke="#333" stroke-width="0.25" textLength="11.53" lengthAdjust="spacingAndGlyphs">0.6</text>
<text x="259.74" y="543.10" font-size="7.9" fill="#333" stroke="#333" stroke-width="0.25" textLength="11.53" lengthAdjust="spacingAndGlyphs">0.6</text>
<text x="266.57" y="562.50" font-size="7.9" fill="#333" stroke="#333" stroke-width="0.25" textLength="4.61" lengthAdjust="spacingAndGlyphs">0</text>
<text transform="translate(252.90,552.90) rotate(-90)" font-size="8.2" fill="#1c1c1c" stroke="#1c1c1c" stroke-width="0.4" textLength="97.94" lengthAdjust="spacingAndGlyphs">Apparent permeability (cm/min)</text>
<text x="284.26" y="573.00" font-size="7.9" fill="#1c1c1c" stroke="#1c1c1c" stroke-width="0.25" textLength="21.52" lengthAdjust="spacingAndGlyphs">Buffer</text>
<text x="355.07" y="573.20" font-size="7.6" fill="#1c1c1c" stroke="#1c1c1c" stroke-width="0.25" textLength="16.79" lengthAdjust="spacingAndGlyphs">CLB</text>
<text x="388.44" y="573.20" font-size="7.6" fill="#1c1c1c" stroke="#1c1c1c" stroke-width="0.25" textLength="20.31" lengthAdjust="spacingAndGlyphs">12C7</text>
<text x="422.01" y="573.20" font-size="7.6" fill="#1c1c1c" stroke="#1c1c1c" stroke-width="0.25" textLength="21.88" lengthAdjust="spacingAndGlyphs">3G12</text>
<text x="380.93" y="591.70" font-size="7.6" fill="#1c1c1c" stroke="#1c1c1c" stroke-width="0.25" textLength="38.94" lengthAdjust="spacingAndGlyphs">+ anti-FVIIa</text>
<text x="369.29" y="607.00" font-size="7.6" fill="#1c1c1c" stroke="#1c1c1c" stroke-width="0.25" textLength="33.36" lengthAdjust="spacingAndGlyphs">+ F18-20</text>
</svg></body></html>
